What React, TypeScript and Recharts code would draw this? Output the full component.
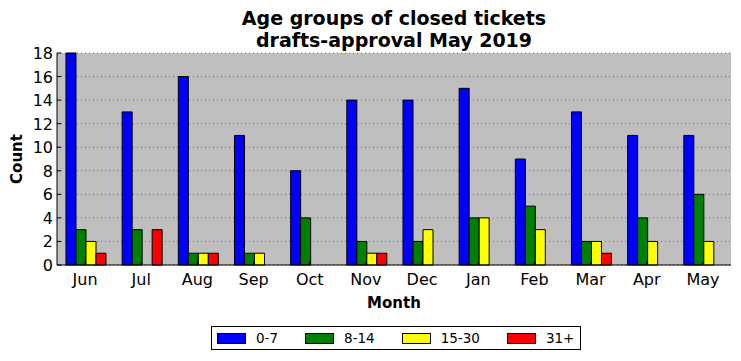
import React from 'react';
import { BarChart, Bar, XAxis, YAxis, CartesianGrid } from 'recharts';

const months = ['Jun', 'Jul', 'Aug', 'Sep', 'Oct', 'Nov', 'Dec', 'Jan', 'Feb', 'Mar', 'Apr', 'May'];
const age0to7 = [18, 13, 16, 11, 8, 14, 14, 15, 9, 13, 11, 11];
const age8to14 = [3, 3, 1, 1, 4, 2, 2, 4, 5, 2, 4, 6];
const age15to30 = [2, 0, 1, 1, 0, 1, 3, 4, 3, 2, 2, 2];
const age31plus = [1, 3, 1, 0, 0, 1, 0, 0, 0, 1, 0, 0];
const yTicks = [0, 2, 4, 6, 8, 10, 12, 14, 16, 18];

const series = [
  { key: 'a', name: '0-7', color: '#0000ff', values: age0to7 },
  { key: 'b', name: '8-14', color: '#008000', values: age8to14 },
  { key: 'c', name: '15-30', color: '#ffff00', values: age15to30 },
  { key: 'd', name: '31+', color: '#ff0000', values: age31plus },
];

const data = months.map((month, i) => {
  const row: Record<string, string | number> = { month };
  series.forEach((s) => { row[s.key] = s.values[i]; });
  return row;
});

const FONT = '"DejaVu Sans", sans-serif';

// matplotlib classic style: ticks point into the axes
const BottomTick = (props: any) => {
  const { x, y, payload } = props;
  return (
    <g>
      <line x1={x} x2={x} y1={y} y2={y - 4} stroke="#000" />
      <text x={x} y={y + 20} textAnchor="middle" fontSize={16} fontFamily={FONT} fill="#000">{payload.value}</text>
    </g>
  );
};
const TopTick = (props: any) => {
  const { x, y } = props;
  return <line x1={x} x2={x} y1={y} y2={y + 4} stroke="#000" />;
};
const LeftTick = (props: any) => {
  const { x, y, payload } = props;
  return (
    <g>
      <line x1={x} x2={x + 4} y1={y} y2={y} stroke="#000" />
      <text x={x - 4} y={y + 6} textAnchor="end" fontSize={16} fontFamily={FONT} fill="#000">{payload.value}</text>
    </g>
  );
};
const RightTick = (props: any) => {
  const { x, y } = props;
  return <line x1={x} x2={x - 4} y1={y} y2={y} stroke="#000" />;
};

export default function App() {
  return (
    <div style={{ position: 'absolute', left: 0, top: 0, width: 741, height: 361, background: '#fff', fontFamily: FONT }}>
      <BarChart
        width={741}
        height={361}
        data={data}
        margin={{ top: 53, right: 10, bottom: 46, left: 0 }}
        barCategoryGap="16%"
        barGap={0}
      >
        <CartesianGrid vertical={false} fill="#bfbfbf" fillOpacity={1} stroke="#6f6f6f" strokeDasharray="1 3" />
        {series.map((s) => (
          <Bar key={s.key} dataKey={s.key} name={s.name} fill={s.color} stroke="#000" strokeWidth={1} isAnimationActive={false} />
        ))}
        <XAxis dataKey="month" height={50} tickSize={0} tickMargin={0} tickLine={false} axisLine={{ stroke: '#000' }} tick={<BottomTick />} interval={0} />
        <XAxis dataKey="month" xAxisId="top" orientation="top" height={0} tickSize={0} tickMargin={0} tickLine={false} axisLine={{ stroke: '#000' }} tick={<TopTick />} interval={0} />
        <YAxis width={57} domain={[0, 18]} ticks={yTicks} tickSize={0} tickMargin={0} tickLine={false} axisLine={{ stroke: '#000' }} tick={<LeftTick />} interval={0} />
        <YAxis yAxisId="r" orientation="right" width={0} domain={[0, 18]} ticks={yTicks} tickSize={0} tickMargin={0} tickLine={false} axisLine={{ stroke: '#000' }} tick={<RightTick />} interval={0} />
      </BarChart>
      <svg width={741} height={361} style={{ position: 'absolute', left: 0, top: 0, pointerEvents: 'none' }}>
        <text x={394} y={24.5} textAnchor="middle" fontSize={19} fontWeight="bold" fontFamily={FONT}>Age groups of closed tickets</text>
        <text x={394} y={47} textAnchor="middle" fontSize={19} fontWeight="bold" fontFamily={FONT}>drafts-approval May 2019</text>
        <text x={394} y={308} textAnchor="middle" fontSize={15} fontWeight="bold" fontFamily={FONT}>Month</text>
        <text transform="translate(22,159) rotate(-90)" textAnchor="middle" fontSize={15} fontWeight="bold" fontFamily={FONT}>Count</text>
      </svg>
      <div style={{ position: 'absolute', left: 211, top: 326, width: 363, height: 22, border: '1px solid #000', display: 'flex', alignItems: 'center', paddingLeft: 5, boxSizing: 'content-box', gap: 27, fontSize: 13.5 }}>
        {series.map((s) => (
          <div key={s.key} style={{ display: 'flex', alignItems: 'center', gap: 10 }}>
            <span style={{ width: 27, height: 9, background: s.color, border: '1px solid #000', display: 'inline-block' }} />
            <span>{s.name}</span>
          </div>
        ))}
      </div>
    </div>
  );
}
